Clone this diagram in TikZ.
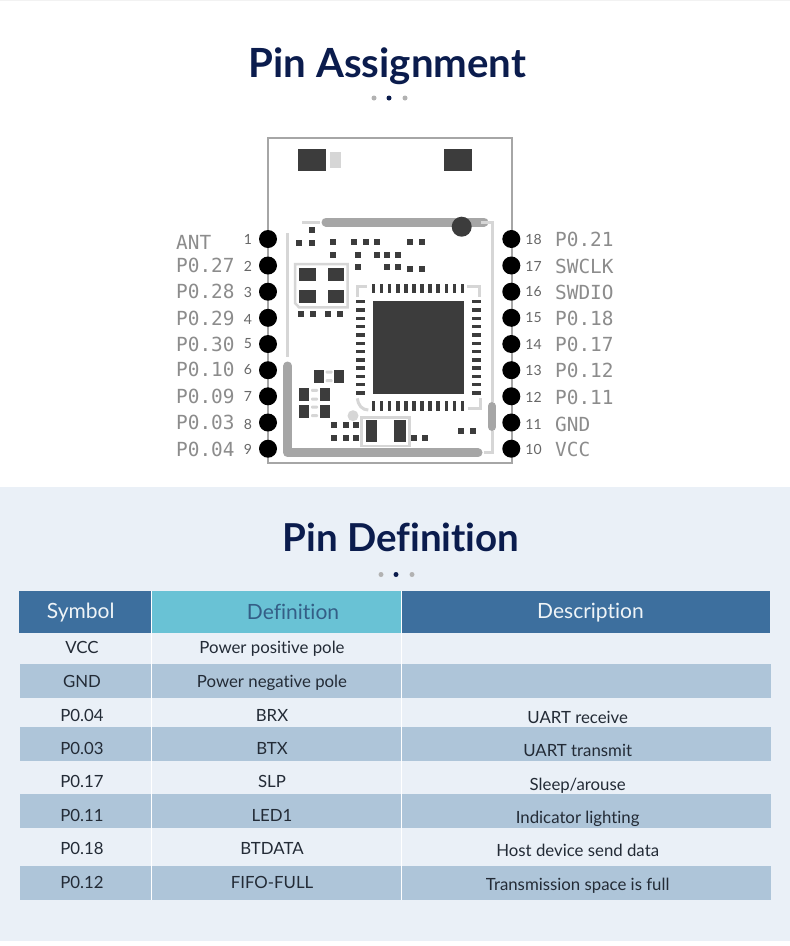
\documentclass[tikz,border=0pt]{standalone}
\usepackage{fontspec}
\setmainfont{Lato}[Ligatures=CommonOff]
\newfontfamily\pcbfont{DejaVu Sans Mono}
\definecolor{navy}{HTML}{0B1C4D}
\definecolor{panel}{HTML}{EAF0F7}
\definecolor{hdblue}{HTML}{3D6F9E}
\definecolor{hdteal}{HTML}{69C2D5}
\definecolor{rowblue}{HTML}{AEC5D9}
\definecolor{cell}{HTML}{232B36}
\definecolor{dk}{HTML}{3C3C3C}
\definecolor{mid}{HTML}{A6A6A6}
\definecolor{lt}{HTML}{D6D6D6}
\definecolor{lab}{HTML}{8C8C8C}
\tikzset{
  x=1pt,y=-1pt,
  title/.style={anchor=base,inner sep=0pt,text=navy,font=\fontsize{38.5}{40}\selectfont\bfseries},
  dotg/.style={circle,fill=black!30,minimum size=5pt,inner sep=0pt},
  dotn/.style={circle,fill=navy,minimum size=5pt,inner sep=0pt},
  pin/.style={circle,fill=black,minimum size=18pt,inner sep=0pt},
  pinno/.style={anchor=center,inner sep=0pt,text=black!60,font=\fontsize{14}{15}\selectfont},
  pinlab/.style={anchor=west,inner sep=0pt,text=lab,font=\fontsize{19.4}{20}\selectfont\pcbfont},
  hd/.style={anchor=base,inner sep=0pt,font=\fontsize{21}{22}\selectfont},
  td/.style={anchor=base,inner sep=0pt,text=cell,font=\fontsize{16.8}{18}\selectfont},
  thickbar/.style={draw=mid,line width=9pt,line cap=round},
  thinbar/.style={draw=lt,line width=3pt},
  outline/.style={draw=black!35,line width=2pt},
  ltpad/.style={fill=lt,rounded corners=1pt}
}
\begin{document}
\begin{tikzpicture}
\useasboundingbox (0,0) rectangle (790,946);
\fill[white] (0,0) rectangle (790,946);
\fill[black!5] (0,0) rectangle (790,1);
\fill[panel] (0,487) rectangle (790,941);
% titles
\node[title,font=\fontsize{40.2}{42}\selectfont\bfseries] (t1) at (387.5,77) {Pin Assignment};
\node[dotg] (d1) at (374,98) {};
\node[dotn] (d2) at (389,98) {};
\node[dotg] (d3) at (405,98) {};
\node[title] (t2) at (401,551) {Pin Definition};
\node[dotg] (d4) at (381,574.5) {};
\node[dotn] (d5) at (396,574.5) {};
\node[dotg] (d6) at (412,574.5) {};
% module outline
\draw[outline] (268,137.5) rectangle (511.5,463);
% top pads
\fill[dk] (297.5,148.5) rectangle (326,171);
\fill[lt] (330,152) rectangle (341,168);
\fill[dk] (443.5,148.5) rectangle (471.5,171);
% traces
\draw[thinbar] (302,222) -- (320,222);
\draw[thinbar] (287.7,233) -- (287.7,357);
\draw[thickbar] (326,222) -- (484,222);
\draw[thinbar] (481,222) -- (492.3,222) -- (492.3,402);
\draw[thinbar] (492.3,431) -- (492.3,452.7) -- (484,452.7);
\fill[dk] (461.7,226.7) circle (10);
\draw[draw=mid,line width=8pt,line cap=round] (492,406) -- (492,427);
\draw[draw=mid,line width=9pt,line cap=round,line join=round] (287.7,366) -- (287.7,452.7) -- (478,452.7);
% small squares
\foreach \x/\y in {311.7/230,299.3/243.3,311.7/242.7,333.3/242.3,333.3/254.7,354.3/242.3,366.3/242.3,377.3/242.3,358/254.7,377.3/254.7,387.3/254.7,397.7/254.7,358/266.7,387.3/266.7,397.7/266.7,410/242.3,422/242.3,410/269,422/269,301/314.3,313.3/314.3,327.7/314.3,340/314.3,334.3/425.3,345.7/425.3,356/425.3,334.3/437.7,345.7/437.7,356/437.7,414/437.7,425/437.7,460.7/431,472.7/431}
  \fill[dk] (\x-3,\y-3) rectangle (\x+3,\y+3);
% four-pad block
\draw[draw=lt,line width=2.5pt] (295,264) -- (347.7,264) -- (347.7,307.3) -- (299,307.3) -- (295,303) -- cycle;
\foreach \x in {299.3,327.7} \foreach \y in {267.7,290}
  \fill[dk] (\x,\y) rectangle (\x+16.3,\y+13.4);
% chip
\fill[dk] (372.7,301) rectangle (464,394);
\foreach \i in {0,...,11} {
  \pgfmathsetmacro{\px}{373.4+8.1*\i}
  \fill[dk] (\px-1.8,284) rectangle (\px+1.8,293.3);
  \fill[dk] (\px-1.8,401) rectangle (\px+1.8,411);
  \pgfmathsetmacro{\py}{301.7+8.3*\i}
  \fill[dk] (356,\py-1.7) rectangle (365.3,\py+1.7);
  \fill[dk] (471.7,\py-1.7) rectangle (481,\py+1.7);
}
\draw[thinbar] (357.3,297) -- (357.3,286) -- (367.3,286);
\draw[thinbar] (467.3,286) -- (479.5,286) -- (479.5,297);
\draw[thinbar] (467.7,408) -- (480,408) -- (480,398);
\draw[thinbar] (357.3,398.3) .. controls (358,405) and (362,410) .. (368.3,410);
% small SMD pairs
\foreach \xa/\xb/\xc/\y in {314/334.3/325.7/370,299.3/320/311/388.3,299.3/320/311/405} {
  \fill[dk] (\xa,\y) rectangle (\xa+10,\y+12.7);
  \fill[dk] (\xb,\y) rectangle (\xb+10,\y+12.7);
  \fill[ltpad] (\xc,\y+0.5) rectangle (\xc+7,\y+3.5);
  \fill[ltpad] (\xc,\y+9.2) rectangle (\xc+7,\y+12.2);
}
\fill[lt] (353,415.7) circle (5.5);
% bottom component
\draw[draw=lt,line width=2.5pt] (361.7,417.3) rectangle (409.3,446);
\fill[dk] (365.7,420) rectangle (377.3,442.3);
\fill[dk] (394,420) rectangle (406,442.3);
% pins
\foreach \n/\y/\yn/\yl/\txt in {1/239/239.3/242/ANT,2/265.5/266.7/265/P0.27,3/291.7/292/291/P0.28,4/317.8/319/318/P0.29,5/344/344/344/P0.30,6/370.2/370/369.5/P0.10,7/396.3/396.5/396/P0.09,8/422.5/424/422/P0.03,9/448.7/449/449/P0.04} {
  \node[pin] (L\n) at (268,\y) {};
  \node[pinno] (LN\n) at (248,\yn) {\n};
  \node[pinlab] (LT\n) at (176,\yl) {\txt};
}
\foreach \n/\y/\yn/\txt in {18/239/239.7/P0.21,17/265.5/266/SWCLK,16/291.7/292/SWDIO,15/317.8/318/P0.18,14/344/344.7/P0.17,13/370.2/370/P0.12,12/396.3/397/P0.11,11/422.5/424/GND,10/448.7/449/VCC} {
  \node[pin] (R\n) at (511.3,\y) {};
  \node[pinno] (RN\n) at (533.5,\yn) {\n};
  \node[pinlab] (RT\n) at (555,\yn) {\txt};
}
% table
\fill[hdblue] (19,591) rectangle (151,632.7);
\fill[hdteal] (152,591) rectangle (401,632.7);
\fill[hdblue] (402,591) rectangle (770,632.7);
\foreach \a/\b in {664.3/698,727/761,794.3/828,866/900}
  \fill[rowblue] (20,\a) rectangle (771,\b);
\draw[white,line width=0.9pt] (151.5,591) -- (151.5,900);
\draw[white,line width=0.9pt] (401.5,591) -- (401.5,900);
\node[hd,text=white!92!hdblue] (h1) at (80.7,618.5) {Symbol};
\node[hd,text=hdblue!85!black] (h2) at (293,619) {Definition};
\node[hd,text=white!92!hdblue] (h3) at (590.5,618.5) {Description};
\foreach \n/\y/\a/\b in {1/653.3/VCC/Power positive pole,2/687.3/GND/Power negative pole,3/721/P0.04/BRX,4/754/P0.03/BTX,5/787.3/P0.17/SLP,6/821/P0.11/LED1,7/854.3/P0.18/BTDATA,8/888.3/P0.12/FIFO-FULL} {
  \node[td] (a\n) at (82,\y) {\a};
  \node[td] (b\n) at (272,\y) {\b};
}
\node[td] (c3) at (577.7,723.3) {UART receive};
\node[td] (c4) at (577.7,756.7) {UART transmit};
\node[td] (c5) at (577.7,790) {Sleep/arouse};
\node[td] (c6) at (577.7,823) {Indicator lighting};
\node[td] (c7) at (577.7,856.7) {Host device send data};
\node[td] (c8) at (577.7,890.7) {Transmission space is full};
\end{tikzpicture}
\end{document}
